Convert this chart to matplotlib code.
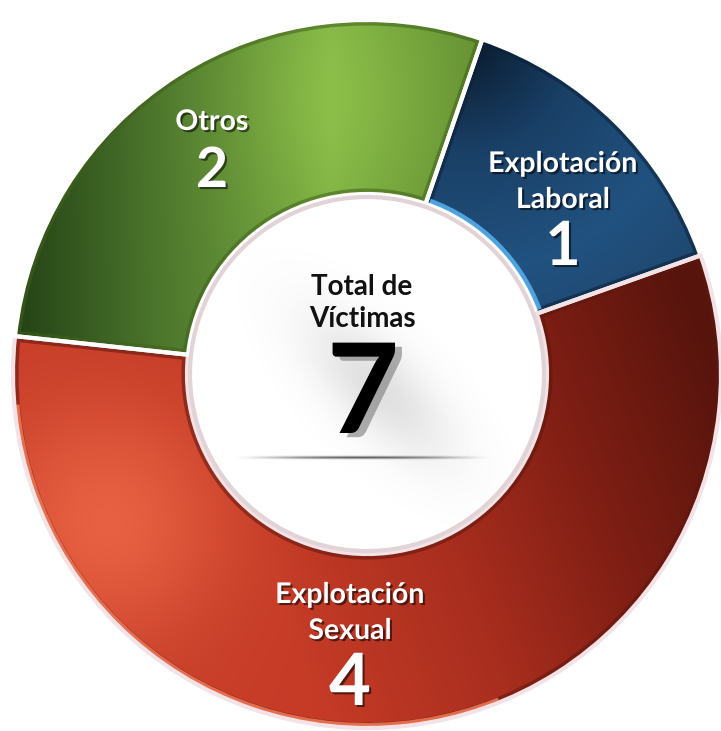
import numpy as np
import matplotlib.pyplot as plt
from matplotlib.patches import Circle, Wedge, Arc
import matplotlib.patheffects as pe

# Víctimas por tipo de explotación
categorias = ['Explotación\nLaboral', 'Explotación\nSexual', 'Otros']
victimas = [1, 4, 2]
total = sum(victimas)
titulo_centro = 'Total de\nVíctimas'

W, H = 721, 731
cx, cy = 367, H - 374
r_ext, ancho = 354, 174

plt.rcParams['font.family'] = ['Lato', 'DejaVu Sans']

fig = plt.figure(figsize=(W / 100, H / 100), dpi=100)
ax = fig.add_axes([0, 0, 1, 1])

cunas, _ = ax.pie(victimas, colors=['#1f4b73', '#c0392b', '#6a9a36'],
                  startangle=71, counterclock=False, radius=r_ext,
                  center=(cx, cy), explode=[0.022, 0, 0.012],
                  wedgeprops=dict(width=ancho, linewidth=0))

# rejilla en pixeles (y hacia abajo) para los degradados
yy, xx = np.mgrid[0:H, 0:W].astype(float)


def rampa(t, paradas):
    out = np.zeros(t.shape + (3,))
    ts = [p[0] for p in paradas]
    for k in range(3):
        out[..., k] = np.interp(t, ts, [p[1][k] for p in paradas])
    return out


def brillo(x0, y0, sigma, color):
    g = np.exp(-((xx - x0) ** 2 + (yy - y0) ** 2) / (2 * sigma ** 2))[..., None]
    return g * np.array(color)


# azul: oscuro arriba, mas claro hacia el centro
d_az = np.hypot(xx - 465, yy - 40)
rgb_azul = rampa(d_az, [(0, (0.04, 0.10, 0.17)), (110, (0.10, 0.25, 0.40)),
                        (230, (0.13, 0.32, 0.50)), (340, (0.12, 0.27, 0.42))])

# rojo: claro abajo a la izquierda, oscuro arriba a la derecha
t_rojo = ((xx - 100) * 0.934 - (yy - 550) * 0.358)
rgb_rojo = rampa(t_rojo, [(0, (0.78, 0.24, 0.16)), (150, (0.77, 0.23, 0.15)),
                          (330, (0.66, 0.18, 0.12)), (480, (0.50, 0.12, 0.08)),
                          (640, (0.34, 0.08, 0.05))])
rgb_rojo += brillo(110, 520, 85, (0.13, 0.14, 0.10))

# verde: oscuro a la izquierda, brillo arriba
rgb_verde = rampa(xx, [(15, (0.14, 0.26, 0.09)), (150, (0.29, 0.45, 0.17)),
                       (330, (0.48, 0.68, 0.26)), (480, (0.39, 0.56, 0.20))])
rgb_verde += brillo(330, 95, 85, (0.07, 0.07, 0.03))

bordes = ['white', '#f3e3e6', 'white']
biseles = ['#0b2036', '#5e160d', '#3f6119']
for cuna, rgb, borde, bisel in zip(cunas, [rgb_azul, rgb_rojo, rgb_verde], bordes, biseles):
    im = ax.imshow(np.clip(rgb, 0, 1), extent=(0, W, 0, H), origin='upper',
                   zorder=2, interpolation='bilinear')
    im.set_clip_path(cuna)
    # bisel interior
    b = Wedge(cuna.center, cuna.r, cuna.theta1, cuna.theta2, width=cuna.width,
              facecolor='none', edgecolor=bisel, linewidth=8, alpha=0.55, zorder=3)
    ax.add_patch(b)
    b.set_clip_path(cuna)
    # separacion entre sectores
    ax.add_patch(Wedge(cuna.center, cuna.r, cuna.theta1, cuna.theta2, width=cuna.width,
                       facecolor='none', edgecolor=borde, linewidth=3, zorder=4))

# filo celeste del sector azul y filo claro del rojo
az = cunas[0]
r_in = az.r - az.width
arco = Arc(az.center, 2 * (r_in + 3), 2 * (r_in + 3), theta1=az.theta1 + 1,
           theta2=az.theta2 - 1, color='#4ea2df', linewidth=5, zorder=3.5)
ax.add_patch(arco)
arco.set_clip_path(az)
ro = cunas[1]
arco2 = Arc(ro.center, 2 * (ro.r - 3), 2 * (ro.r - 3), theta1=185, theta2=292,
            color='#f47a58', linewidth=3, alpha=0.85, zorder=3.5)
ax.add_patch(arco2)
arco2.set_clip_path(ro)

# circulo central
centro = Circle((cx, cy), r_ext - ancho - 3, facecolor='white',
                edgecolor='#e2d3d6', linewidth=3, zorder=5)
ax.add_patch(centro)

# sombra difusa detras del numero
u = ((xx - 378) + (yy - 388)) / np.sqrt(2)
v = ((xx - 378) - (yy - 388)) / np.sqrt(2)
alfa = 0.22 * np.exp(-(u ** 2 / (2 * 65 ** 2) + v ** 2 / (2 * 28 ** 2)))
sombra = np.zeros((H, W, 4))
sombra[..., :3] = 0.45
sombra[..., 3] = alfa
im_s = ax.imshow(sombra, extent=(0, W, 0, H), origin='upper', zorder=6)
im_s.set_clip_path(centro)

# linea de sombra bajo el total
lx = np.linspace(-1, 1, 260)
ly = np.linspace(-1, 1, 9)
linea = np.zeros((9, 260, 4))
linea[..., :3] = 0.2
linea[..., 3] = 0.75 * np.exp(-(ly[:, None] / 0.35) ** 2) * (1 - lx[None, :] ** 2) ** 1.5
ax.imshow(linea, extent=(233, 493, H - 462, H - 453), origin='upper', zorder=6)

sombra_txt = [pe.withSimplePatchShadow(offset=(1.5, -1.5), shadow_rgbFace='black', alpha=0.55)]

# x y lineas base (pixeles) de cada etiqueta
pos_etiquetas = [(563, [172, 208], 265, 44),
                 (350, [603, 639], 705, 52),
                 (212, [130], 187, 40)]
for cat, val, (x, bases, base_num, fs_num) in zip(categorias, victimas, pos_etiquetas):
    for linea_txt, yb in zip(cat.split('\n'), bases):
        ax.text(x, H - yb, linea_txt, color='white', fontsize=20.5, fontweight='bold',
                ha='center', va='baseline', zorder=8, path_effects=sombra_txt)
    ax.text(x, H - base_num, str(val), color='white', fontsize=fs_num, fontweight='bold',
            ha='center', va='baseline', zorder=8, path_effects=sombra_txt)

for linea_txt, yb in zip(titulo_centro.split('\n'), [295, 327]):
    ax.text(362, H - yb, linea_txt, color='#111111', fontsize=20, fontweight='bold',
            ha='center', va='baseline', zorder=8)
ax.text(363, H - 433, str(total), color='black', fontsize=90, fontweight='bold',
        ha='center', va='baseline', zorder=8,
        path_effects=[pe.withSimplePatchShadow(offset=(5, -3), shadow_rgbFace='#7a7a7a', alpha=0.6)])

ax.set_xlim(0, W)
ax.set_ylim(0, H)
ax.set_aspect('equal')
ax.axis('off')
fig.savefig('out.png', dpi=100, facecolor='white')
